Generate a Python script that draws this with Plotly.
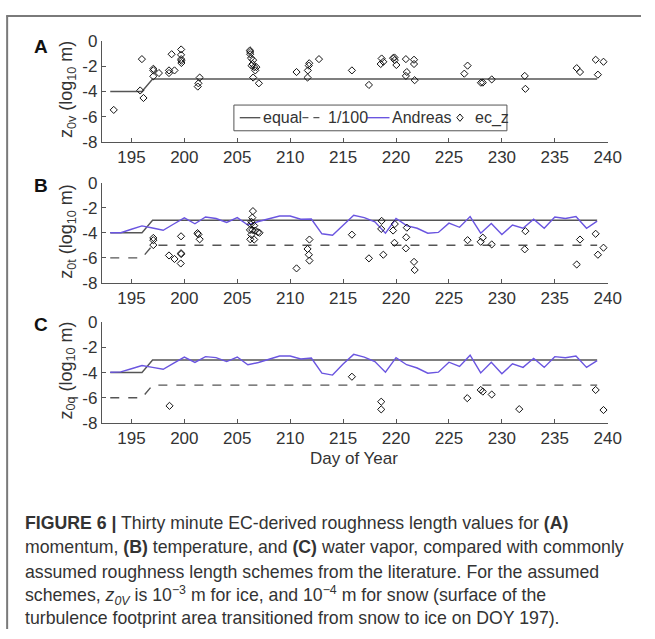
import plotly.graph_objects as go

# ---------------- data ----------------
days = list(range(193, 240))

andreas_t = [-4.0, -4.0, -3.72, -3.45, -3.62, -3.8, -3.3, -2.81, -3.28, -2.74, -2.86, -3.17,
             -2.79, -3.38, -3.1, -2.86, -2.66, -2.66, -2.92, -2.9, -4.08, -4.2, -3.38, -2.6,
             -2.79, -3.12, -4.03, -2.86, -3.43, -3.64, -4.03, -3.97, -3.23, -3.56, -2.71, -4.03,
             -3.25, -4.13, -3.38, -3.64, -2.92, -3.64, -2.74, -2.86, -2.71, -3.64, -3.07]

andreas_q = [-3.97, -3.95, -3.7, -3.44, -3.59, -3.74, -3.25, -2.77, -3.2, -2.74, -2.82, -3.13,
             -2.77, -3.38, -3.2, -2.95, -2.69, -2.69, -2.92, -2.85, -4.05, -4.2, -3.33, -2.56,
             -2.77, -3.13, -3.97, -2.82, -3.38, -3.64, -4.05, -3.97, -3.18, -3.51, -2.62, -4.03,
             -3.18, -4.1, -3.31, -3.59, -2.87, -3.59, -2.74, -2.82, -2.69, -3.59, -3.05]

scheme_x = [193, 196, 197, 239]
equal_v = [-4, -4, -3, -3]
equal_s = [-4, -4, -3, -3]
hundredth_s = [-6, -6, -5, -5]

ecA_x = [193.33, 195.99, 195.83, 196.14, 197.07, 197.07, 197.07, 197.6, 198.55, 198.55, 198.8,
         199.07, 199.7, 199.69, 199.7, 199.72, 199.72, 201.27, 201.33, 201.45,
         206.2, 206.22, 206.22, 206.3, 206.5, 206.45, 206.35, 206.6, 206.7, 206.5, 206.8, 207.04,
         210.6, 211.64, 211.67, 211.76, 211.8, 212.72,
         215.83, 217.44, 218.55, 218.64, 218.8, 219.72, 219.85, 219.88, 220.03,
         220.93, 220.93, 221.02, 221.7, 221.7, 221.76, 226.45, 226.76, 228.02, 228.2,
         229.04, 232.16, 232.22, 237.07, 237.38, 238.86, 239.07, 239.6]
ecA_y = [-5.47, -1.42, -3.92, -4.52, -2.19, -2.32, -2.79, -2.53, -2.32, -2.53, -1.03,
         -2.32, -0.65, -1.08, -1.42, -1.55, -1.73, -3.61, -3.35, -2.89,
         -0.72, -0.85, -1.03, -1.34, -1.5, -1.81, -1.94, -2.06, -2.32, -2.89, -2.06, -3.35,
         -2.45, -2.89, -2.32, -1.94, -1.75, -1.42,
         -2.32, -3.48, -1.81, -1.37, -1.63, -1.34, -1.29, -1.5, -1.89,
         -1.42, -2.76, -2.45, -1.47, -1.81, -3.1, -2.58, -1.94, -3.3, -3.29,
         -3.04, -2.76, -3.79, -2.14, -2.45, -1.47, -2.66, -1.63]

ecB_x = [197.07, 197.07, 197.07, 198.55, 199.07, 199.69, 199.69, 199.7, 199.66,
         201.24, 201.33, 201.45,
         206.48, 206.42, 206.33, 206.27, 206.2, 206.42, 206.33, 206.23, 206.6, 206.7, 206.95, 207.1, 206.6,
         210.6, 211.64, 211.76, 211.82, 211.82,
         215.83, 217.44, 218.64, 218.6, 218.8, 219.72, 219.88, 219.85, 220.93, 220.96, 221.02,
         221.7, 221.76, 226.76, 228.0, 228.2, 229.04, 232.16, 232.22, 237.07, 237.38,
         238.86, 239.07, 239.6]
ecB_y = [-4.41, -4.59, -4.98, -5.81, -6.09, -4.28, -5.63, -5.7, -6.45,
         -4.03, -4.13, -4.52,
         -2.27, -2.79, -3.12, -3.33, -3.77, -3.77, -4.15, -4.52, -4.54, -3.82, -3.95, -4.0, -3.43,
         -6.84, -5.29, -5.75, -4.54, -6.22,
         -4.15, -6.04, -3.05, -3.69, -5.75, -3.82, -3.3, -4.8, -5.24, -4.36, -3.59,
         -6.32, -6.97, -4.59, -4.72, -4.39, -4.93, -5.32, -3.87, -6.53, -4.54,
         -4.08, -5.75, -5.19]

ecC_x = [198.6, 215.83, 218.6, 218.6, 226.73, 228.0, 228.2, 229.04, 231.64, 238.86, 239.6]
ecC_y = [-6.64, -4.33, -6.31, -6.92, -6.03, -5.38, -5.51, -5.74, -6.9, -5.38, -6.97]

ytick_vals = [0, -2, -4, -6, -8]
ytick_text = ["0", "-2", "-4", "-6", "-8"]
xtick_vals = [195, 200, 205, 210, 215, 220, 225, 230, 235, 240]
legend_names = ["equal", "1/100", "Andreas", "ec_z"]

# ---------------- styling ----------------
W, H = 655, 639
FONT = "Liberation Sans, Arial, Helvetica, sans-serif"
AX = "#555555"
TXT = "#333333"
EQ_COL = "#555555"
AN_COL = "#6a55e0"
MK_COL = "#111111"


def px_x(p):
    return p / W


def px_y(p):
    return 1 - p / H


xdom = [px_x(104), px_x(621)]
ydoms = [[px_y(136.7), px_y(33.3)], [px_y(282.3), px_y(179)], [px_y(426.7), px_y(322.7)]]

fig = go.Figure()


def add_line(x, y, ax, name, color, dash="solid", width=1.4):
    fig.add_trace(go.Scatter(x=x, y=y, mode="lines", name=name, xaxis="x" + ax, yaxis="y" + ax,
                             line=dict(color=color, width=width, dash=dash), showlegend=False))


def add_pts(x, y, ax):
    fig.add_trace(go.Scatter(x=x, y=y, mode="markers", name="ec_z", xaxis="x" + ax, yaxis="y" + ax,
                             marker=dict(symbol="diamond-open", size=5.5, color=MK_COL,
                                         line=dict(width=1, color=MK_COL)),
                             showlegend=False))


# Panel A
add_line(scheme_x, equal_v, "", "equal", EQ_COL)
add_pts(ecA_x, ecA_y, "")

# Panel B
add_line(scheme_x, equal_s, "2", "equal", EQ_COL)
add_line(scheme_x, hundredth_s, "2", "1/100", EQ_COL, dash="dash")
add_line(days, andreas_t, "2", "Andreas", AN_COL)
add_pts(ecB_x, ecB_y, "2")

# Panel C
add_line(scheme_x, equal_s, "3", "equal", EQ_COL)
add_line(scheme_x, hundredth_s, "3", "1/100", EQ_COL, dash="dash")
add_line(days, andreas_q, "3", "Andreas", AN_COL)
add_pts(ecC_x, ecC_y, "3")

common_x = dict(range=[192.2, 240], domain=xdom, tickvals=xtick_vals, ticks="inside", ticklen=4,
                tickcolor=AX, showline=True, linecolor=AX, linewidth=1, showgrid=False,
                zeroline=False, tickfont=dict(family=FONT, size=17, color=TXT))
common_y = dict(range=[-8, 0], tickvals=ytick_vals, ticktext=ytick_text, ticks="inside", ticklen=4,
                tickcolor=AX, showline=True, linecolor=AX, linewidth=1, showgrid=False,
                zeroline=False, tickfont=dict(family=FONT, size=17, color=TXT))

fig.update_layout(
    xaxis=dict(common_x, anchor="y"),
    yaxis=dict(common_y, domain=ydoms[0], anchor="x"),
    xaxis2=dict(common_x, anchor="y2"),
    yaxis2=dict(common_y, domain=ydoms[1], anchor="x2"),
    xaxis3=dict(common_x, anchor="y3"),
    yaxis3=dict(common_y, domain=ydoms[2], anchor="x3"),
)

annotations = []
# panel letters
for letter, yp in [("A", 38.5), ("B", 182), ("C", 325.5)]:
    annotations.append(dict(text="<b>%s</b>" % letter, x=px_x(42), y=px_y(yp), xref="paper", yref="paper",
                            showarrow=False, xanchor="center", yanchor="middle",
                            font=dict(family=FONT, size=19, color="#111111")))
# y-axis titles
for sub, ctr in [("0v", 83), ("0t", 229), ("0q", 373)]:
    annotations.append(dict(text="z<sub>%s</sub> (log<sub>10</sub> m)" % sub, x=px_x(69), y=px_y(ctr),
                            xref="paper", yref="paper", showarrow=False, textangle=-90,
                            xanchor="center", yanchor="middle",
                            font=dict(family=FONT, size=18, color=TXT)))
# x-axis title
annotations.append(dict(text="Day of Year", x=px_x(362), y=px_y(463), xref="paper", yref="paper",
                        showarrow=False, xanchor="center", yanchor="middle",
                        font=dict(family=FONT, size=17, color=TXT)))

# boxed key in panel A
LEG_Y = 112
leg_text_x = [267, 333, 399, 483]
for name, tx in zip(legend_names, leg_text_x):
    annotations.append(dict(text=name, x=px_x(tx), y=px_y(LEG_Y), xref="paper", yref="paper",
                            showarrow=False, xanchor="left", yanchor="middle",
                            font=dict(family=FONT, size=16, color=TXT)))

caption = [
    "<b>FIGURE 6 |</b> Thirty minute EC-derived roughness length values for <b>(A)</b>",
    "momentum, <b>(B)</b> temperature, and <b>(C)</b> water vapor, compared with commonly",
    "assumed roughness length schemes from the literature. For the assumed",
    "schemes, <i>z</i><sub><i>0V</i></sub> is 10<sup>−3</sup> m for ice, and 10<sup>−4</sup> m for snow (surface of the",
    "turbulence footprint area transitioned from snow to ice on DOY 197).",
]
cap_y = [530, 555, 580, 604.5, 628]
for line, yy in zip(caption, cap_y):
    annotations.append(dict(text=line, x=px_x(23), y=px_y(yy), xref="paper", yref="paper",
                            showarrow=False, xanchor="left", yanchor="middle",
                            font=dict(family=FONT, size=17.7, color=TXT)))

shapes = [
    # figure frame (top and left edges)
    dict(type="line", xref="paper", yref="paper", x0=px_x(6.5), x1=1, y0=px_y(7.3), y1=px_y(7.3),
         line=dict(color="#7a7a7a", width=2)),
    dict(type="line", xref="paper", yref="paper", x0=px_x(7.3), x1=px_x(7.3), y0=px_y(6.5), y1=0,
         line=dict(color="#7a7a7a", width=2)),
    # key box and samples
    dict(type="rect", xref="paper", yref="paper", x0=px_x(239), x1=px_x(518), y0=px_y(125.5), y1=px_y(99),
         line=dict(color="#555555", width=1), fillcolor="white", layer="above"),
    dict(type="line", xref="paper", yref="paper", x0=px_x(245), x1=px_x(266), y0=px_y(LEG_Y), y1=px_y(LEG_Y),
         line=dict(color=EQ_COL, width=1.4), layer="above"),
    dict(type="line", xref="paper", yref="paper", x0=px_x(309), x1=px_x(331), y0=px_y(LEG_Y), y1=px_y(LEG_Y),
         line=dict(color=EQ_COL, width=1.4, dash="6px,5px"), layer="above"),
    dict(type="line", xref="paper", yref="paper", x0=px_x(375), x1=px_x(398), y0=px_y(LEG_Y), y1=px_y(LEG_Y),
         line=dict(color=AN_COL, width=1.4), layer="above"),
]
cx, cy, r = 470, LEG_Y, 3.2
diamond = "M %f,%f L %f,%f L %f,%f L %f,%f Z" % (
    px_x(cx), px_y(cy - r - 0.6), px_x(cx + r), px_y(cy), px_x(cx), px_y(cy + r + 0.6), px_x(cx - r), px_y(cy))
shapes.append(dict(type="path", xref="paper", yref="paper", path=diamond,
                   line=dict(color=MK_COL, width=1), layer="above"))

fig.update_layout(
    width=W, height=H,
    margin=dict(l=0, r=0, t=0, b=0),
    paper_bgcolor="white", plot_bgcolor="white",
    font=dict(family=FONT, color=TXT),
    annotations=annotations, shapes=shapes,
    showlegend=False,
)

post = ("document.body.style.margin='0';document.body.style.overflow='hidden';")

fig.write_html("out.html", config={"displayModeBar": False}, post_script=post)
